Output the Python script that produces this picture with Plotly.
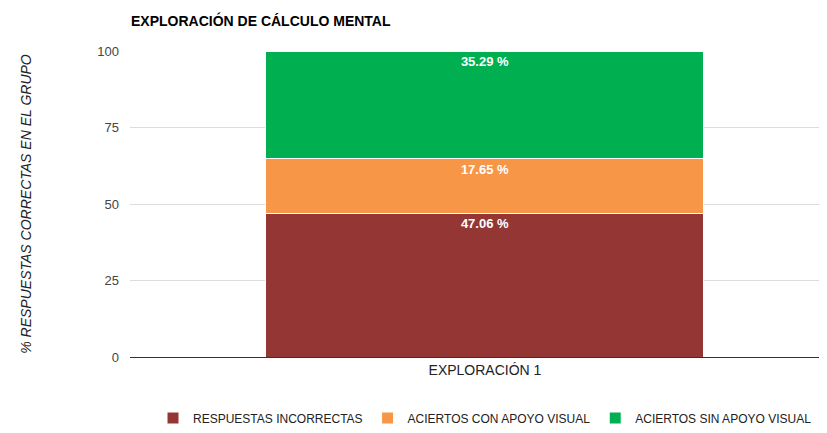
import plotly.graph_objects as go

categories = ["EXPLORACIÓN 1"]
series_names = ["RESPUESTAS INCORRECTAS", "ACIERTOS CON APOYO VISUAL", "ACIERTOS SIN APOYO VISUAL"]
incorrectas = [47.06]
con_apoyo = [17.65]
sin_apoyo = [35.29]
colors = ["#943634", "#F79646", "#00B050"]
y_ticks = [0, 25, 50, 75, 100]

fig = go.Figure()
for name, vals, c in zip(series_names, [incorrectas, con_apoyo, sin_apoyo], colors):
    fig.add_trace(go.Bar(
        x=categories, y=vals, name=name, width=0.617,
        marker=dict(color=c, line=dict(color="white", width=1)),
        text=[f"{v:.2f} %" for v in vals],
        textposition="inside", insidetextanchor="end",
        textfont=dict(family="Liberation Sans, Arial", size=13, color="white", weight="bold"),
        textangle=0,
    ))

W, H = 819, 425
fig.update_layout(
    barmode="stack",
    width=W, height=H,
    margin=dict(l=122, r=2, t=43, b=75),
    paper_bgcolor="white", plot_bgcolor="white",
    font=dict(family="Liberation Sans, Arial", size=13, color="#444"),
    title=dict(text="<b>EXPLORACIÓN DE CÁLCULO MENTAL</b>", x=123/W, xanchor="left",
               y=1 - 13/H, yanchor="middle",
               font=dict(size=14, color="#000")),
    yaxis=dict(range=[0, 100], tickvals=y_ticks, gridcolor="#ddd", zeroline=False,
               showline=False, ticks="", ticklen=0, ticklabelstandoff=10,
               tickfont=dict(size=13, color="#444"),
               title=dict(text="<i>% RESPUESTAS CORRECTAS EN EL GRUPO</i>",
                          font=dict(size=14, color="#222"), standoff=62)),
    xaxis=dict(showline=True, linecolor="#333", linewidth=1, range=[-0.5, 0.479],
               tickfont=dict(size=14, color="#222")),
    legend=dict(orientation="h", x=0.5108, xanchor="center", y=-(410 - 350) / 307, yanchor="middle",
                font=dict(size=12, color="#222"), traceorder="normal"),
    showlegend=True,
)
fig.write_html("out.html")
